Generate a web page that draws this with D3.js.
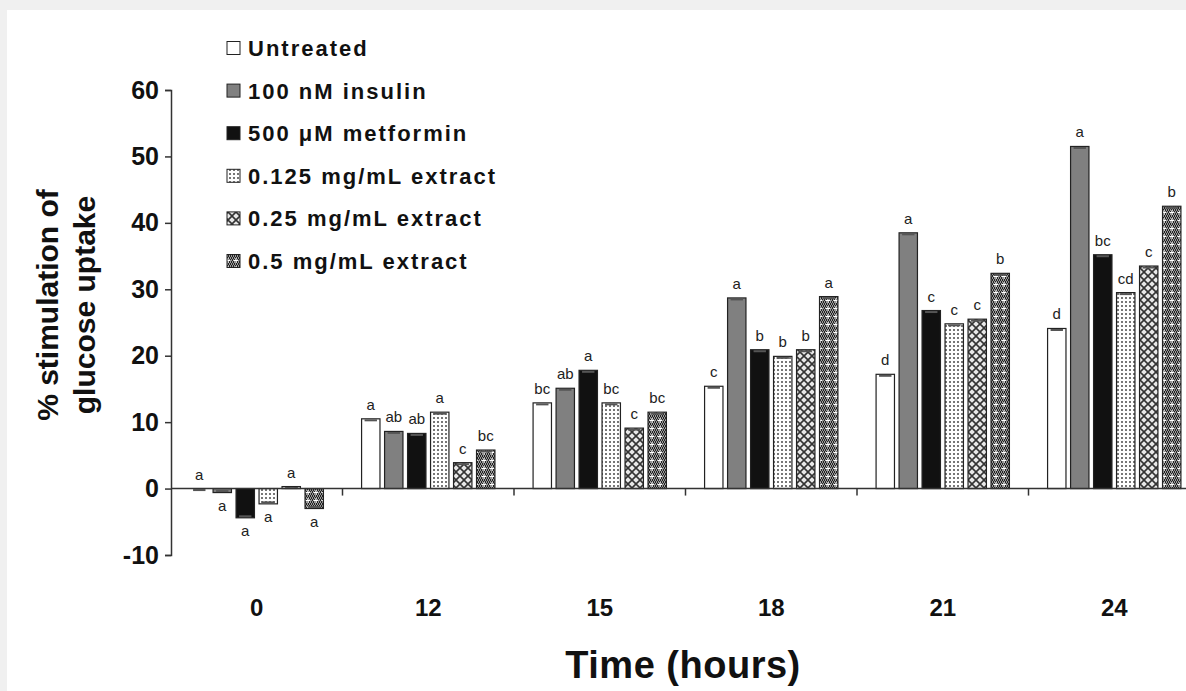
<!DOCTYPE html>
<html>
<head>
<meta charset="utf-8">
<script src="https://cdn.jsdelivr.net/npm/d3@7"></script>
<style>
  body { margin: 0; background: #fff; }
  text { font-family: "Liberation Sans", Arial, sans-serif; }
</style>
</head>
<body>
<svg id="chart"></svg>
<script>
// --- data ---
const times = ["0", "12", "15", "18", "21", "24"];
const series = ["Untreated", "100 nM insulin", "500 \u03bcM metformin",
                "0.125 mg/mL extract", "0.25 mg/mL extract", "0.5 mg/mL extract"];

const untreated = [0.0, 10.5, 12.9, 15.4, 17.2, 24.1];
const insulin   = [-0.6, 8.6, 15.1, 28.7, 38.5, 51.5];
const metformin = [-4.4, 8.3, 17.8, 20.9, 26.8, 35.2];
const ext0125   = [-2.3, 11.5, 12.9, 19.9, 24.8, 29.5];
const ext025    = [0.3, 3.9, 9.1, 20.9, 25.5, 33.5];
const ext05     = [-3.0, 5.8, 11.5, 28.9, 32.4, 42.5];

const lblUntreated = ["a", "a", "bc", "c", "d", "d"];
const lblInsulin   = ["a", "ab", "ab", "a", "a", "a"];
const lblMetformin = ["a", "ab", "a", "b", "c", "bc"];
const lbl0125      = ["a", "a", "bc", "b", "c", "cd"];
const lbl025       = ["a", "c", "c", "b", "c", "c"];
const lbl05        = ["a", "bc", "bc", "a", "b", "b"];

const yTicks = [-10, 0, 10, 20, 30, 40, 50, 60];

const allValues = [untreated, insulin, metformin, ext0125, ext025, ext05];
const allLabels = [lblUntreated, lblInsulin, lblMetformin, lbl0125, lbl025, lbl05];

// --- setup ---
const width = 1186, height = 691;
const svg = d3.select("#chart").attr("width", width).attr("height", height);

// light frame like the screenshot
svg.append("rect").attr("width", width).attr("height", height).attr("fill", "#f0f0f0");
svg.append("rect").attr("x", 7).attr("y", 10).attr("width", width - 7).attr("height", height - 10).attr("fill", "#fff");

// patterns for the extract bars
const defs = svg.append("defs");

const p1 = defs.append("pattern").attr("id", "pat0125").attr("patternUnits", "userSpaceOnUse")
  .attr("width", 4).attr("height", 4);
p1.append("rect").attr("width", 4).attr("height", 4).attr("fill", "#fff");
p1.append("rect").attr("x", 1).attr("y", 1).attr("width", 2).attr("height", 2).attr("fill", "#777");

const p2 = defs.append("pattern").attr("id", "pat025").attr("patternUnits", "userSpaceOnUse")
  .attr("width", 8).attr("height", 8);
p2.append("rect").attr("width", 8).attr("height", 8).attr("fill", "#e8e8e8");
p2.append("path").attr("d", "M0,0L8,8M8,0L0,8").attr("stroke", "#333").attr("stroke-width", 1.6);
p2.append("rect").attr("x", 3).attr("y", 3).attr("width", 2).attr("height", 2).attr("fill", "#333");

const p3 = defs.append("pattern").attr("id", "pat05").attr("patternUnits", "userSpaceOnUse")
  .attr("width", 8).attr("height", 8);
p3.append("rect").attr("width", 8).attr("height", 8).attr("fill", "#9a9a9a");
for (let i = 0; i < 8; i += 2) {
  for (let j = 0; j < 8; j += 2) {
    p3.append("rect").attr("x", i + ((j / 2) % 2)).attr("y", j).attr("width", 1).attr("height", 1).attr("fill", "#222");
    p3.append("rect").attr("x", i + 1 - ((j / 2) % 2)).attr("y", j + 1).attr("width", 1).attr("height", 1).attr("fill", "#222");
  }
}
p3.append("path").attr("d", "M4,2V7M1.5,4.5H6.5").attr("stroke", "#fff").attr("stroke-width", 1);

const fills = ["#ffffff", "#808080", "#111111", "url(#pat0125)", "url(#pat025)", "url(#pat05)"];

// --- scales ---
const x = d3.scaleBand().domain(times).range([171, 1200]).paddingInner(0).paddingOuter(0);
const xInner = d3.scaleBand().domain(series).range([0, x.bandwidth()]).paddingInner(0.2).paddingOuter(0.83);
const y = d3.scaleLinear().domain([-10, 60]).range([555, 90]);

// --- bars ---
const barData = [];
times.forEach((t, ti) => {
  series.forEach((s, si) => {
    barData.push({ t: t, s: s, si: si, v: allValues[si][ti], lbl: allLabels[si][ti] });
  });
});

const bars = svg.append("g");
bars.selectAll("rect.bar")
  .data(barData)
  .enter()
  .append("rect")
  .attr("class", "bar")
  .attr("x", d => x(d.t) + xInner(d.s))
  .attr("y", d => y(Math.max(0, d.v)))
  .attr("width", xInner.bandwidth())
  .attr("height", d => Math.abs(y(d.v) - y(0)))
  .attr("fill", d => fills[d.si])
  .attr("stroke", "#222")
  .attr("stroke-width", 1.2);

// small error caps at bar ends
bars.selectAll("line.cap")
  .data(barData)
  .enter()
  .append("line")
  .attr("x1", d => x(d.t) + xInner(d.s) + 3)
  .attr("x2", d => x(d.t) + xInner(d.s) + xInner.bandwidth() - 3)
  .attr("y1", d => y(d.v) + (d.v >= 0 ? 1.5 : -1.5))
  .attr("y2", d => y(d.v) + (d.v >= 0 ? 1.5 : -1.5))
  .attr("stroke", "#555")
  .attr("stroke-width", 2);

// significance letters
bars.selectAll("text.sig")
  .data(barData)
  .enter()
  .append("text")
  .attr("x", d => x(d.t) + xInner(d.s) + xInner.bandwidth() / 2)
  .attr("y", d => d.v >= 0 ? y(d.v) - 9 : y(d.v) + 18)
  .attr("text-anchor", "middle")
  .attr("font-size", 15)
  .attr("fill", "#222")
  .text(d => d.lbl);

// --- axes ---
const yAxis = svg.append("g")
  .attr("transform", "translate(171,0)")
  .call(d3.axisLeft(y).tickValues(yTicks).tickSize(6).tickPadding(6).tickFormat(d => String(d)));
yAxis.select(".domain").attr("stroke", "#333").attr("stroke-width", 1.5);
yAxis.selectAll(".tick line").attr("stroke", "#333").attr("stroke-width", 1.5);
yAxis.selectAll(".tick text")
  .attr("font-size", 25)
  .attr("font-weight", "bold")
  .attr("fill", "#111")
  .attr("font-family", "Liberation Sans, Arial, sans-serif");

// x axis along y = 0 with ticks at group boundaries
const xAxis = svg.append("g").attr("transform", `translate(0,${y(0)})`);
xAxis.append("line").attr("x1", 171).attr("x2", 1200).attr("stroke", "#333").attr("stroke-width", 1.5);
xAxis.selectAll("line.tk")
  .data(times.slice(1))
  .enter()
  .append("line")
  .attr("x1", d => x(d)).attr("x2", d => x(d))
  .attr("y1", 0).attr("y2", 7)
  .attr("stroke", "#333").attr("stroke-width", 1.5);

svg.append("g").selectAll("text")
  .data(times)
  .enter()
  .append("text")
  .attr("x", d => x(d) + x.bandwidth() / 2)
  .attr("y", 616)
  .attr("text-anchor", "middle")
  .attr("font-size", 24)
  .attr("font-weight", "bold")
  .attr("fill", "#111")
  .text(d => d);

// axis titles
svg.append("text")
  .attr("x", 683).attr("y", 678)
  .attr("text-anchor", "middle")
  .attr("font-size", 38)
  .attr("font-weight", "bold")
  .attr("letter-spacing", 0.5)
  .attr("fill", "#111")
  .text("Time (hours)");

const yTitle = svg.append("g").attr("transform", "translate(0,305) rotate(-90)");
yTitle.append("text").attr("x", 0).attr("y", 58)
  .attr("text-anchor", "middle").attr("font-size", 30).attr("font-weight", "bold").attr("fill", "#111")
  .text("% stimulation of");
yTitle.append("text").attr("x", 0).attr("y", 95)
  .attr("text-anchor", "middle").attr("font-size", 30).attr("font-weight", "bold").attr("fill", "#111")
  .text("glucose uptake");

// --- legend ---
const legend = svg.append("g");
const legendY = d3.scalePoint().domain(series).range([48, 261]);
legend.selectAll("rect")
  .data(series)
  .enter()
  .append("rect")
  .attr("x", 227)
  .attr("y", d => legendY(d) - 6.5)
  .attr("width", 13).attr("height", 13)
  .attr("fill", (d, i) => fills[i])
  .attr("stroke", "#222").attr("stroke-width", 1);
legend.selectAll("text")
  .data(series)
  .enter()
  .append("text")
  .attr("x", 248)
  .attr("y", d => legendY(d) + 8)
  .attr("font-size", 22)
  .attr("font-weight", "bold")
  .attr("letter-spacing", 2)
  .attr("fill", "#111")
  .text(d => d);
</script>
</body>
</html>
